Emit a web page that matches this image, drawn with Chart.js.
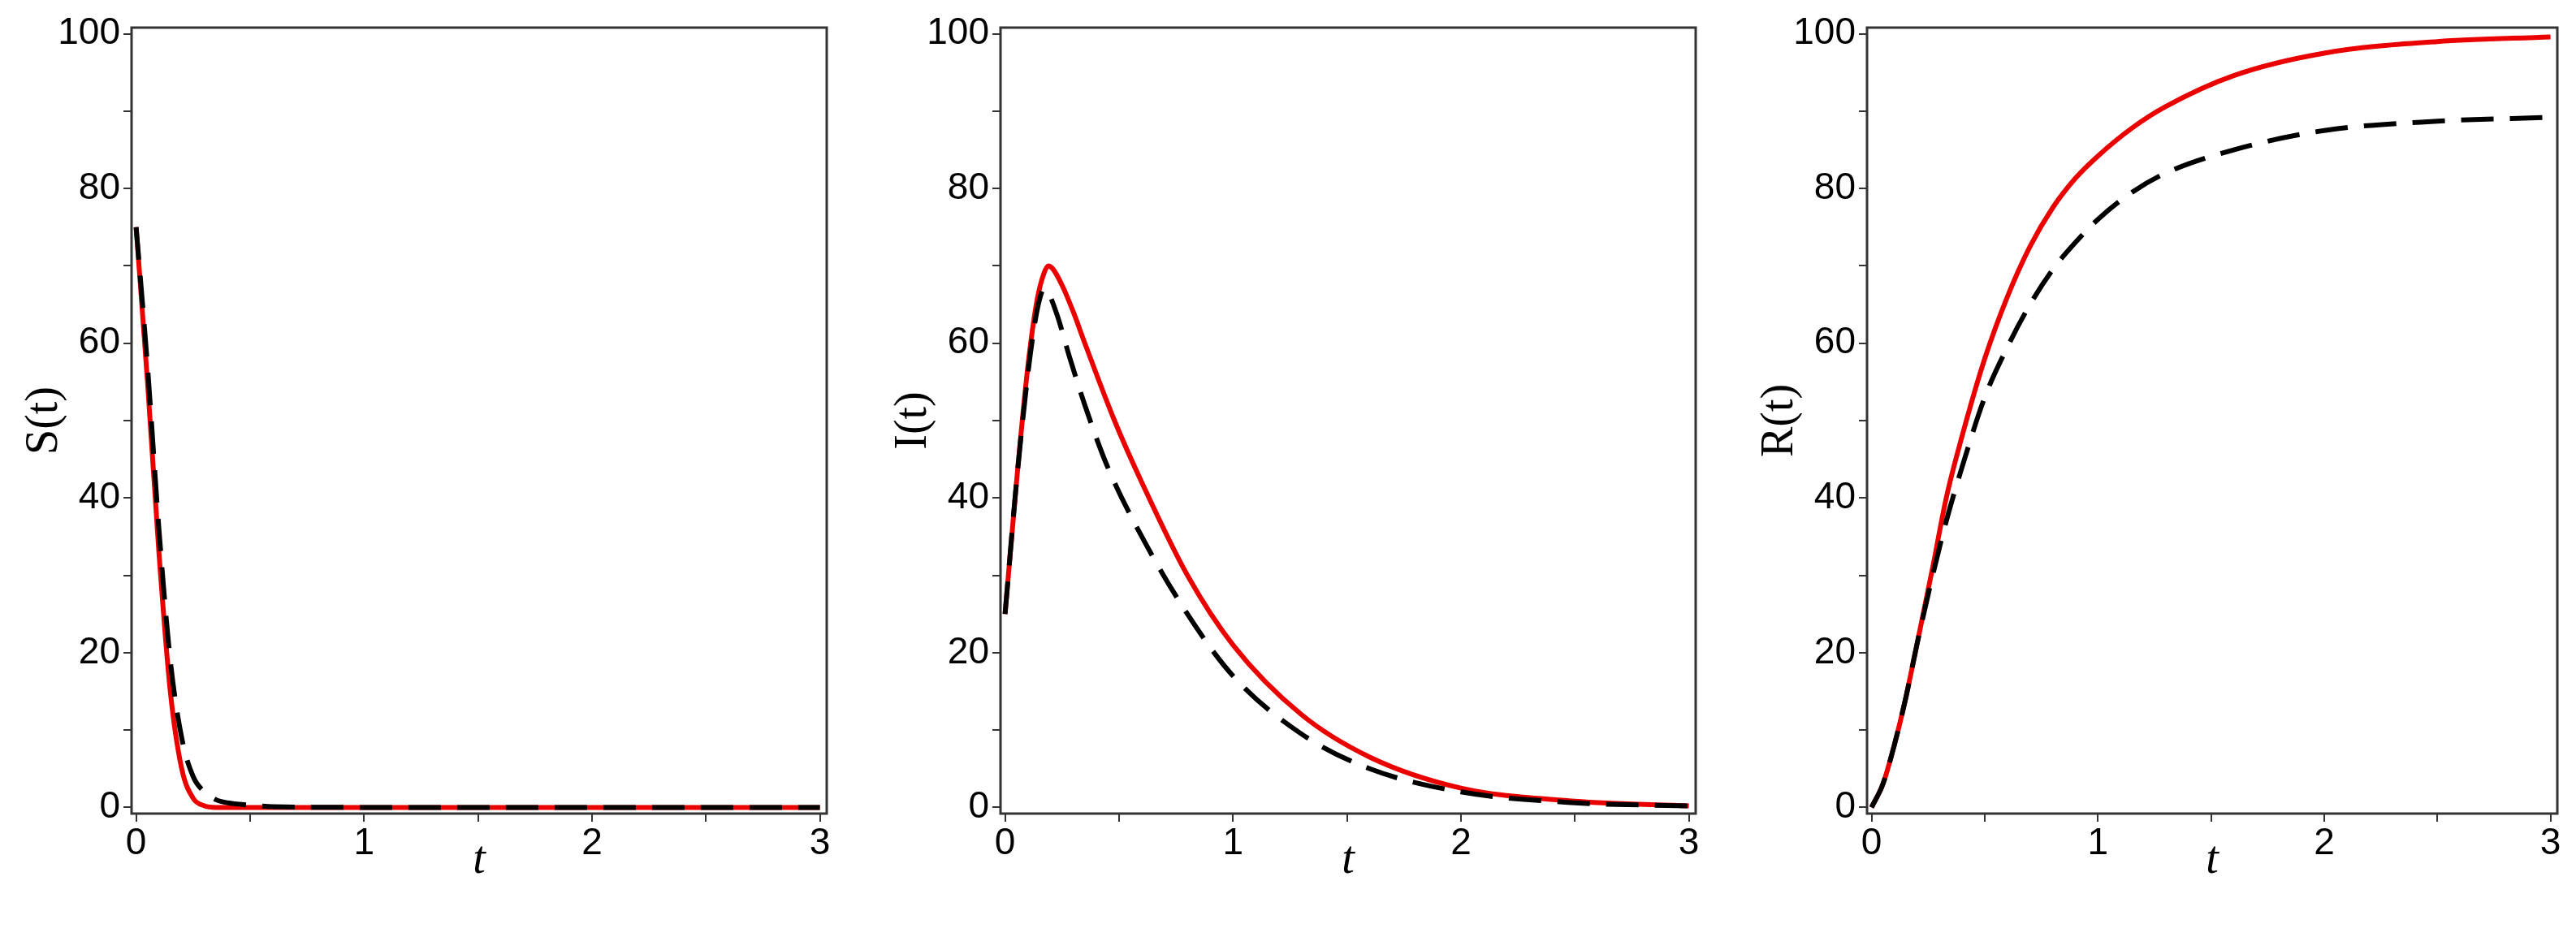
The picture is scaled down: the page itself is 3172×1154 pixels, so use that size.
<!DOCTYPE html>
<html lang="en">
<head>
<meta charset="UTF-8">
<title>S I R</title>
<script src="https://cdn.jsdelivr.net/npm/chart.js"></script>
<style>
body { margin: 0; background: white; width: 3172px; height: 1154px; position: relative; overflow: hidden; }
.box { position: absolute; top: 0; height: 1154px; }
</style>
</head>
<body>
<div class="box" id="b1" style="left:22px;width:1010px"><canvas id="c1"></canvas></div>
<div class="box" id="b2" style="left:1092px;width:1010px"><canvas id="c2"></canvas></div>
<div class="box" id="b3" style="left:2159px;width:1004px"><canvas id="c3"></canvas></div>
<script>
// time points (t) for each curve
const tS = [0, 0.05, 0.1, 0.15, 0.2, 0.25, 0.3, 0.35, 0.4, 0.5, 0.6, 1, 2, 3];
const sRed = [75, 55, 33, 15, 5, 1.2, 0.2, 0, 0, 0, 0, 0, 0, 0];
const sDash = [75, 57, 36, 19, 9, 4, 2, 1, 0.6, 0.3, 0.1, 0, 0, 0];

const tI = [0, 0.05, 0.1, 0.14, 0.17, 0.19, 0.21, 0.25, 0.3, 0.35, 0.48, 0.6, 0.8, 1.0, 1.3, 1.6, 2.0, 2.5, 3.0];
const iRed = [25, 42, 57, 65.5, 69, 70, 69.6, 67.5, 64, 60, 50, 42, 30, 21, 12, 6.5, 2.5, 0.8, 0.2];
const tI2 = [0, 0.05, 0.1, 0.13, 0.15, 0.17, 0.19, 0.23, 0.28, 0.35, 0.45, 0.6, 0.8, 1.0, 1.3, 1.6, 2.0, 2.5, 3.0];
const iDash = [25, 42, 56, 62.5, 65.5, 67, 66.5, 63.5, 58.5, 52, 44, 35, 25, 17, 9.5, 5, 2, 0.6, 0.2];

const tR = [0, 0.05, 0.1, 0.15, 0.2, 0.27, 0.33, 0.4, 0.5, 0.6, 0.7, 0.8, 0.9, 1.0, 1.15, 1.3, 1.6, 2.0, 2.5, 3.0];
const rRed = [0, 3, 8, 14, 21, 31, 40, 48, 58, 66, 72.5, 77.5, 81.3, 84.2, 87.8, 90.6, 94.6, 97.5, 99, 99.6];
const rDash = [0, 3, 8, 14, 21, 30, 37, 44, 53, 59.5, 65, 69.5, 73, 76, 79.5, 82, 85, 87.5, 88.7, 89.2];

const xTicks = [0, 1, 2, 3];
const yTicks = [0, 20, 40, 60, 80, 100];

function pts(xs, ys) { return xs.map((x, i) => ({ x: x, y: ys[i] })); }

const frame = {
    id: 'frame',
    afterDraw(chart) {
        const a = chart.chartArea, ctx = chart.ctx;
        ctx.save();
        ctx.strokeStyle = '#333';
        ctx.lineWidth = 3;
        ctx.strokeRect(a.left, a.top, a.right - a.left, a.bottom - a.top);
        ctx.restore();
    }
};

function makeChart(id, label, red, dash) {
    return new Chart(document.getElementById(id), {
        type: 'line',
        data: {
            datasets: [
                { data: dash, borderColor: '#000', borderWidth: 6, borderDash: [40, 20], pointRadius: 0, cubicInterpolationMode: 'monotone', fill: false },
                { data: red, borderColor: 'rgb(235,0,0)', borderWidth: 6, pointRadius: 0, cubicInterpolationMode: 'monotone', fill: false }
            ]
        },
        options: {
            responsive: true,
            maintainAspectRatio: false,
            animation: false,
            layout: { padding: { top: 34, right: 14 } },
            plugins: { legend: { display: false }, tooltip: { enabled: false } },
            scales: {
                x: {
                    type: 'linear', min: -0.02, max: 3.03,
                    afterBuildTicks: s => { s.ticks = [0, 0.5, 1, 1.5, 2, 2.5, 3].map(v => ({ value: v })); },
                    ticks: { callback: v => xTicks.includes(v) ? String(v) : '', color: '#000', font: { family: 'Liberation Sans', size: 46 }, maxRotation: 0, padding: 0 },
                    grid: { drawOnChartArea: false, tickLength: 10, color: '#333', lineWidth: 2 },
                    border: { display: false },
                    title: { display: true, text: 't', color: '#000', font: { family: 'Liberation Serif', size: 56, style: 'italic' }, padding: { top: 0, bottom: 60 } },
                    afterFit: s => { s.height = 152; }
                },
                y: {
                    min: -0.8, max: 100.8,
                    afterBuildTicks: s => { s.ticks = [0, 10, 20, 30, 40, 50, 60, 70, 80, 90, 100].map(v => ({ value: v })); },
                    ticks: { callback: v => yTicks.includes(v) ? String(v) : '', color: '#000', font: { family: 'Liberation Sans', size: 46 }, padding: 4 },
                    grid: { drawOnChartArea: false, tickLength: 10, color: '#333', lineWidth: 2 },
                    border: { display: false },
                    title: { display: true, text: label, color: '#000', font: { family: 'Liberation Serif', size: 56 }, padding: 0 },
                    afterFit: s => { s.width = 140; }
                }
            }
        },
        plugins: [frame]
    });
}

makeChart('c1', 'S(t)', pts(tS, sRed), pts(tS, sDash));
makeChart('c2', 'I(t)', pts(tI, iRed), pts(tI2, iDash));
makeChart('c3', 'R(t)', pts(tR, rRed), pts(tR, rDash));
</script>
</body>
</html>
